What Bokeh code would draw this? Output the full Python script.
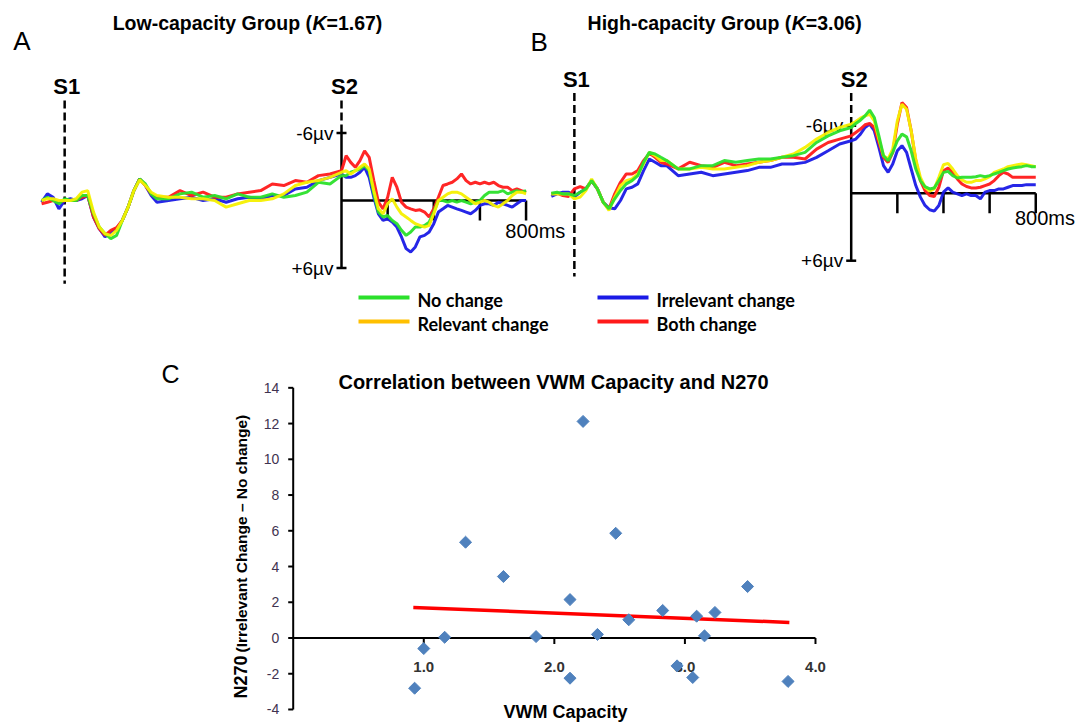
import numpy as np
from bokeh.plotting import figure
from bokeh.models import Range1d
from bokeh.core.properties import value
from bokeh.embed import file_html
from bokeh.resources import INLINE

# ---------------- data ----------------
erp_time_ms = [-1300, -1275, -1250, -1225, -1200, -1175, -1150, -1125, -1100, -1075,
               -1050, -1025, -1000, -975, -950, -925, -900, -875, -850, -825, -800,
               -750, -700, -650, -600, -550, -500, -450, -400, -350, -300, -250,
               -200, -150, -100, -50,
               0, 20, 40, 60, 80, 100, 120, 140, 160, 180, 200, 220, 240, 260, 280,
               300, 320, 340, 360, 380, 400, 420, 440, 460, 480, 500, 520, 540, 560,
               580, 600, 620, 640, 660, 680, 700, 720, 740, 760, 780, 800]

# Low-capacity group (microvolts, negative plotted upward)
low_no_change = [0, -0.29, 0, 0.29, -0.15, 0, 0, -0.44, -0.44, 1.18, 2.36, 2.95, 3.39, 3.10, 1.77, 0.59, -0.88, -1.92, -1.47, -0.59, -0.15,
                 -0.15, -0.59, -0.74, -0.29, -0.44, -0.15, -0.59, -0.29, -0.29, -0.59, -0.29,
                 -0.44, -0.74, -1.62, -1.47,
                 -2.21, -2.21, -2.51, -2.65, -2.80, -3.10, -2.65, -0.59, 1.03, 1.47, 1.33, 1.77, 2.06, 2.65, 3.10, 2.80, 2.36, 2.36, 2.21, 1.92,
                 1.03, 0, 0, 0.15, 0, 0.15, 0, 0.15, 0.29, 0.15, 0, -0.44, -0.74, -0.74, -0.74, -0.88, -0.59, -0.74, -0.88, -0.74, -0.88]
low_irrelevant_change = [0.15, -0.59, -0.29, 0.74, 0, -0.15, 0, -0.15, -0.44, 1.47, 2.51, 3.24, 2.80, 2.51, 1.77, 0.59, -0.88, -1.92, -1.33, -0.44, 0.15,
                         0, -0.15, -0.29, 0, -0.15, 0.15, -0.15, -0.29, -0.15, -0.44, -0.44,
                         -1.03, -1.18, -1.77, -2.06,
                         -2.36, -2.06, -2.06, -2.21, -2.51, -2.95, -2.06, -0.29, 1.18, 1.77, 1.62, 1.92, 2.36, 3.24, 4.28, 4.57, 4.13, 3.24, 3.10, 2.80,
                         2.06, 1.03, 0.74, 0.44, 0.59, 0.74, 0.88, 1.03, 1.18, 0.88, 0.44, 0.29, 0.29, 0.44, 0.15, 0.29, 0.44, 0.59, 0.29, 0, 0]
low_relevant_change = [0, -0.15, -0.15, 0, 0, 0, -0.15, -0.74, -0.88, 1.03, 2.36, 2.95, 3.10, 2.65, 1.77, 0.59, -0.88, -1.83, -1.33, -0.74, -0.44,
                       -0.29, -0.29, -0.15, -0.15, 0, 0.59, 0.29, 0, 0, -0.15, -0.59,
                       -1.33, -1.62, -1.77, -2.06,
                       -2.51, -2.65, -2.36, -2.65, -2.95, -3.24, -2.80, -0.88, 0.74, 1.18, 0.29, -0.15, 0.59, 1.18, 1.47, 1.77, 2.06, 2.21, 2.36, 2.21,
                       1.18, 0, -0.29, -0.59, -0.74, -0.74, -0.59, -0.29, 0, 0.29, 0.15, 0, 0.15, 0.44, 0.59, 0.29, 0, -0.44, -0.74, -0.74, -0.59]
low_both_change = [0.29, 0.15, 0, 0.15, 0, 0, 0, -0.29, -0.44, 1.47, 2.51, 3.10, 2.65, 2.42, 1.77, 0.59, -0.88, -1.92, -1.33, -0.59, -0.29,
                   -0.29, -0.88, -0.44, -0.74, -0.29, -0.29, -0.59, -0.74, -0.88, -1.47, -1.33,
                   -1.77, -1.62, -2.21, -2.36,
                   -2.65, -3.98, -3.39, -2.95, -3.54, -4.42, -3.83, -1.77, 0.15, 0.74, -0.29, -2.06, -1.18, 0.15, 0.59, 0.74, 0.88, 0.83, 1.03, 1.47,
                   0.74, -0.29, -1.33, -1.47, -1.62, -1.92, -2.36, -1.77, -1.47, -1.62, -1.47, -1.62, -1.47, -1.62, -1.33, -1.18, -1.18, -0.88, -1.03, -0.88, -0.74]

# High-capacity group
high_no_change = [0, -0.09, 0.06, 0.06, 0.21, -0.09, -0.38, -1.12, -0.38, 0.80, 1.39, 0.50, -0.24, -0.83, -1.12, -1.56, -2.75, -3.63, -3.49, -3.19, -2.90,
                  -2.16, -2.16, -2.45, -2.45, -2.90, -2.75, -2.90, -3.04, -3.04, -3.19, -3.34,
                  -3.63, -4.51, -5.10, -5.55,
                  -5.84, -6.20, -6.49, -6.87, -7.38, -6.73, -5.10, -3.33, -2.89, -3.63, -4.66, -5.25, -5.01, -3.77, -2.15, -1.12, -0.59, -0.38, -0.47, -1.12,
                  -1.85, -1.94, -1.56, -1.35, -1.41, -1.41, -1.41, -1.47, -1.56, -1.47, -1.56, -1.71, -1.85, -2.00, -2.15, -2.24, -2.30, -2.36, -2.45, -2.36, -2.36]
high_irrelevant_change = [0.29, 0.06, -0.09, -0.09, 0.35, -0.09, -0.38, -1.12, -0.38, 0.80, 1.30, 1.39, 0.65, -0.38, -0.53, -0.83, -2.01, -3.04, -2.75, -2.45, -2.45,
                          -1.56, -1.71, -1.86, -1.56, -1.71, -1.86, -2.01, -2.30, -2.30, -2.60, -2.60,
                          -2.74, -3.18, -3.77, -4.37,
                          -4.66, -4.81, -5.25, -5.84, -6.14, -5.55, -4.07, -2.45, -1.85, -2.59, -3.77, -4.22, -3.63, -2.15, -0.68, 0.35, 1.09, 1.47, 1.59, 1.09,
                          -0.09, -0.47, -0.09, 0.06, 0.21, 0.06, 0.21, 0.21, 0.50, -0.09, -0.23, -0.23, -0.38, -0.38, -0.53, -0.68, -0.68, -0.68, -0.76, -0.76, -0.76]
high_relevant_change = [0.06, 0.06, 0.06, 0.06, 0.50, 0.35, -0.24, -1.27, -0.38, 0.80, 1.53, 0.35, -0.68, -1.12, -1.27, -1.71, -2.60, -3.63, -3.34, -2.90, -2.90,
                        -2.16, -2.16, -2.30, -2.16, -2.16, -2.30, -2.45, -2.75, -2.90, -3.19, -3.49,
                        -4.07, -4.81, -5.40, -5.84,
                        -6.14, -6.37, -6.67, -6.87, -7.02, -6.43, -4.81, -3.33, -3.04, -3.92, -6.43, -7.91, -7.46, -5.55, -3.04, -1.41, -0.53, -0.18, -0.38, -1.41,
                        -2.53, -2.65, -2.15, -1.56, -1.18, -0.97, -0.97, -1.12, -1.12, -1.27, -1.47, -1.85, -2.00, -2.15, -2.36, -2.45, -2.53, -2.59, -2.53, -2.45, -2.36]
high_both_change = [0.06, 0, 0.21, 0.29, -0.38, -0.59, -0.38, -1.12, -0.38, 0.80, 1.39, 0.06, -0.97, -1.71, -1.71, -2.01, -2.90, -3.54, -3.19, -2.75, -2.60,
                    -2.16, -2.75, -2.45, -2.30, -2.75, -2.45, -2.60, -2.75, -2.90, -3.19, -3.19,
                    -3.04, -3.92, -4.51, -4.81,
                    -5.10, -5.40, -5.70, -6.08, -6.20, -5.84, -4.51, -3.18, -2.74, -3.63, -6.14, -8.05, -7.61, -5.55, -2.89, -1.12, -0.23, 0.21, 0.29, -0.53,
                    -2.00, -2.24, -1.85, -1.27, -0.82, -0.59, -0.47, -0.47, -0.53, -0.68, -0.82, -1.12, -1.56, -1.85, -1.71, -1.41, -1.41, -1.41, -1.41, -1.41, -1.41]

s1_time_ms = -1200
s2_time_ms = 0
post_ticks_ms = [200, 400, 600, 800]
amp_ticks_uv = [-6, 6]
amp_tick_labels = ["-6\u00b5v", "+6\u00b5v"]
end_label = "800ms"
low_k, high_k = "1.67", "3.06"

condition_names = ["No change", "Relevant change", "Irrelevant change", "Both change"]

# Panel C: correlation
vwm_capacity = [0.93, 1.00, 1.16, 1.32, 1.61, 1.86, 2.12, 2.12, 2.22, 2.33, 2.47, 2.57,
                2.83, 2.94, 3.06, 3.09, 3.15, 3.23, 3.48, 3.79]
n270_diff = [-2.81, -0.59, 0.04, 5.36, 3.44, 0.08, 2.15, -2.25, 12.12, 0.20, 5.86, 1.02,
             1.54, -1.56, -2.21, 1.22, 0.12, 1.43, 2.88, -2.43]
fit_x = [0.92, 3.80]
fit_y = [1.71, 0.87]
c_yticks = [-4, -2, 0, 2, 4, 6, 8, 10, 12, 14]
c_xticks = [1, 2, 3, 4]
c_xtick_labels = ["1.0", "2.0", "3.0", "4.0"]

# ---------------- layout constants ----------------
W, H = 1076, 722
A_S2_PX, B_S2_PX = 341.0, 850.7
A_BASE_PX, B_BASE_PX = 200.0, 192.7
PX_PER_MS, PX_PER_UV = 0.2307, 11.25
C_X0_PX, C_PX_PER_X = 292.7, 130.57
C_Y0_PX, C_PX_PER_Y = 637.5, 17.87

RED, BLUE, GREEN, YELLOW, ORANGE = "#FF1A1A", "#1A1AE6", "#2BE02B", "#F5F000", "#FFC000"
SANS = value("Liberation Sans")

p = figure(width=W, height=H,
           x_range=Range1d(-C_X0_PX / C_PX_PER_X, (W - C_X0_PX) / C_PX_PER_X),
           y_range=Range1d((C_Y0_PX - H) / C_PX_PER_Y, C_Y0_PX / C_PX_PER_Y),
           x_axis_type=None, y_axis_type=None, min_border=0,
           output_backend="svg", toolbar_location=None)
p.outline_line_color = None
p.background_fill_color = "white"
p.border_fill_color = "white"

p.extra_x_ranges = {
    "A": Range1d(-A_S2_PX / PX_PER_MS, (W - A_S2_PX) / PX_PER_MS),
    "B": Range1d(-B_S2_PX / PX_PER_MS, (W - B_S2_PX) / PX_PER_MS),
    "px": Range1d(0, W),
}
p.extra_y_ranges = {
    "A": Range1d((H - A_BASE_PX) / PX_PER_UV, -A_BASE_PX / PX_PER_UV),
    "B": Range1d((H - B_BASE_PX) / PX_PER_UV, -B_BASE_PX / PX_PER_UV),
    "px": Range1d(H, 0),
}

def txt(x, y, s, rn, size, style="normal", align="center", baseline="middle",
        color="black", font=SANS, angle=0, xo=0, yo=0):
    kw = {} if rn is None else dict(x_range_name=rn, y_range_name=rn)
    p.text(x=[x], y=[y], text=[s], text_font=font, text_font_size=size,
           text_font_style=style, text_align=align, text_baseline=baseline,
           text_color=color, angle=angle, x_offset=xo, y_offset=yo, **kw)

# ---------------- ERP panels ----------------
panels = [
    ("A", [(low_irrelevant_change, BLUE), (low_both_change, RED), (low_no_change, GREEN), (low_relevant_change, YELLOW)], 2.67),
    ("B", [(high_irrelevant_change, BLUE), (high_both_change, RED), (high_relevant_change, YELLOW), (high_no_change, GREEN)], 2.2),
]
tick_len_uv = 20 / PX_PER_UV
amp_tick_half_ms = 5 / PX_PER_MS
for name, series, lab_v in panels:
    kw = dict(x_range_name=name, y_range_name=name)
    # stimulus markers
    p.line([s1_time_ms, s1_time_ms], [-8.9, 7.4], line_color="black", line_width=2.5, line_dash="8 4", **kw)
    p.line([s2_time_ms, s2_time_ms], [-8.9, amp_ticks_uv[0]], line_color="black", line_width=2.5, line_dash="8 4", **kw)
    txt(s1_time_ms, -10.1, "S1", name, "22px", "bold", xo=2)
    txt(s2_time_ms, -10.1, "S2", name, "22px", "bold", xo=3)
    # axes
    p.line([s2_time_ms, s2_time_ms], amp_ticks_uv, line_color="black", line_width=2.5, **kw)
    p.line([s2_time_ms, post_ticks_ms[-1]], [0, 0], line_color="black", line_width=2.5, **kw)
    p.segment(x0=post_ticks_ms, y0=[0] * len(post_ticks_ms), x1=post_ticks_ms,
              y1=[tick_len_uv] * len(post_ticks_ms), line_color="black", line_width=2.5, **kw)
    p.segment(x0=[-amp_tick_half_ms] * 2, y0=amp_ticks_uv, x1=[amp_tick_half_ms] * 2, y1=amp_ticks_uv,
              line_color="black", line_width=2.5, **kw)
    for v, lab in zip(amp_ticks_uv, amp_tick_labels):
        txt(s2_time_ms, v, lab, name, "19px", align="right", xo=-8)
    txt(710, lab_v, end_label, name, "20px", align="left")
    # waveforms
    for vals, col in series:
        p.line(erp_time_ms, vals, line_color=col, line_width=3, line_alpha=0.95, **kw)

# panel letters and titles (page pixel coordinates)
txt(21.5, 40.5, "A", "px", "26px")
txt(538.7, 41.5, "B", "px", "26px")
txt(170, 373, "C", "px", "25px")
for anchor, part1, k in [(311.5, "Low-capacity Group (", low_k), (790.8, "High-capacity Group (", high_k)]:
    txt(anchor, 22, part1, "px", "19.5px", "bold", align="right")
    txt(anchor, 22, "K", "px", "19.5px", "bold italic", align="left", xo=0.5)
    txt(anchor, 22, "=" + k + ")", "px", "19.5px", "bold", align="left", xo=14.5)

# legend
LATO = value("Lato")
leg = [(condition_names[0], GREEN, 358, 297), (condition_names[1], ORANGE, 358, 321),
       (condition_names[2], BLUE, 597, 297), (condition_names[3], RED, 597, 321)]
for lab, col, x0, y0 in leg:
    p.line([x0, x0 + 51], [y0, y0], line_color=col, line_width=4, x_range_name="px", y_range_name="px")
    txt(x0 + 59, y0 + 2, lab, "px", "18px", "bold", align="left", font=LATO)

# ---------------- Panel C ----------------
txt(553, 381, "Correlation between VWM Capacity and N270", "px", "20px", "bold")
ytick_len = 5 / C_PX_PER_X
xtick_len = 6 / C_PX_PER_Y
p.line([0, 0], [c_yticks[0], c_yticks[-1]], line_color="black", line_width=2)
p.segment(x0=[-ytick_len] * len(c_yticks), y0=c_yticks, x1=[0] * len(c_yticks), y1=c_yticks,
          line_color="black", line_width=2)
p.text(x=[0] * len(c_yticks), y=c_yticks, text=[str(v) for v in c_yticks], text_font=SANS,
       text_font_size="14px", text_align="right", text_baseline="middle", text_color="#3F3350", x_offset=-14)
p.line([0, c_xticks[-1]], [0, 0], line_color="black", line_width=2)
p.segment(x0=c_xticks, y0=[0] * len(c_xticks), x1=c_xticks, y1=[-xtick_len] * len(c_xticks),
          line_color="black", line_width=2)
p.text(x=c_xticks, y=[0] * len(c_xticks), text=c_xtick_labels, text_font=SANS, text_font_size="15px",
       text_font_style="bold", text_align="center", text_baseline="middle", text_color="#333333", y_offset=28.5)
p.line(fit_x, fit_y, line_color="#FF0000", line_width=3.5)
p.scatter(vwm_capacity, n270_diff, marker="square", size=8.5, angle=np.pi / 4,
          fill_color="#4F81BD", line_color="#4F81BD")
txt(565, 711, "VWM Capacity", "px", "18px", "bold")
txt(240, 655, "N270", "px", "18px", "bold", align="right", angle=np.pi / 2)
txt(241, 652, "(Irrelevant Change \u2013 No change)", "px", "15.5px", "bold", align="left", angle=np.pi / 2)

open("out.html", "w").write(file_html(p, INLINE, "ERP and correlation"))
